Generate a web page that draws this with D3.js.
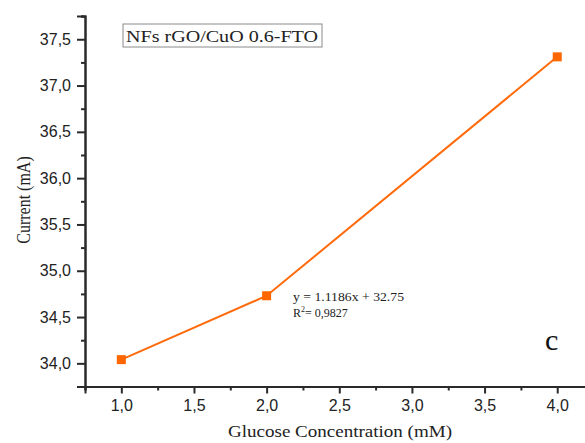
<!DOCTYPE html>
<html>
<head>
<meta charset="utf-8">
<script src="https://cdn.jsdelivr.net/npm/d3@7"></script>
<style>
  html, body { margin: 0; padding: 0; background: #fff; }
  svg { display: block; }
</style>
</head>
<body>
<svg id="chart" width="585" height="443"></svg>
<script>
// Glucose concentration (mM) vs. measured current (mA)
const concentration = [1, 2, 4];
const current = [34.04, 34.73, 37.31];
const xTicks = [1.0, 1.5, 2.0, 2.5, 3.0, 3.5, 4.0];
const yTicks = [34.0, 34.5, 35.0, 35.5, 36.0, 36.5, 37.0, 37.5];
const seriesName = "NFs rGO/CuO 0.6-FTO";
const fitLines = ["y = 1.1186x + 32.75", "R²= 0,9827"];
const panelLabel = "c";

const svg = d3.select("#chart");
const margin = { left: 85, top: 15, bottom: 386.5 };

const x = d3.scaleLinear().domain([0.75, 4.25]).range([margin.left, margin.left + 3.5 * 145.3]);
const y = d3.scaleLinear().domain([33.75, 37.75]).range([margin.bottom, margin.bottom - 4 * 92.6]);

const comma = d => d.toFixed(1).replace(".", ",");
const minor = (lo, hi) => d3.range(lo, hi + 1e-9, 0.25).filter(v => Math.abs(v * 2 - Math.round(v * 2)) > 1e-6);

const axisColor = "#2a2a2a";
const serif = "Liberation Serif, Times New Roman, serif";

// minor ticks, then major ticks with labels
svg.append("g").attr("transform", `translate(0,${margin.bottom})`)
  .call(d3.axisBottom(x).tickValues(minor(0.75, 4.25)).tickSize(4).tickFormat(""));
svg.append("g").attr("transform", `translate(0,${margin.bottom})`)
  .call(d3.axisBottom(x).tickValues(xTicks).tickSize(7).tickPadding(6).tickFormat(comma));

svg.append("g").attr("transform", `translate(${margin.left},0)`)
  .call(d3.axisLeft(y).tickValues(minor(33.75, 37.75)).tickSize(4).tickFormat(""));
svg.append("g").attr("transform", `translate(${margin.left},0)`)
  .call(d3.axisLeft(y).tickValues(yTicks).tickSize(8).tickPadding(6).tickFormat(comma));

svg.selectAll(".domain").attr("stroke", axisColor).attr("stroke-width", 2);
svg.selectAll(".tick line").attr("stroke", axisColor).attr("stroke-width", 2);
svg.selectAll(".tick text")
  .attr("font-family", "Liberation Sans, Arial, sans-serif")
  .attr("font-size", 16)
  .attr("fill", "#222");

// series line
const pts = concentration.map((c, i) => [c, current[i]]);
svg.append("path")
  .datum(pts)
  .attr("fill", "none")
  .attr("stroke", "#ff6a0a")
  .attr("stroke-width", 2)
  .attr("d", d3.line().x(d => x(d[0])).y(d => y(d[1])));

// square markers
const ms = 9;
svg.selectAll("rect.marker")
  .data(pts)
  .enter().append("rect")
  .attr("class", "marker")
  .attr("x", d => x(d[0]) - ms / 2)
  .attr("y", d => y(d[1]) - ms / 2)
  .attr("width", ms)
  .attr("height", ms)
  .attr("fill", "#ff6600");

// axis titles
svg.append("text")
  .attr("x", 228).attr("y", 437)
  .attr("font-family", serif)
  .attr("font-size", 17)
  .attr("textLength", 224)
  .attr("lengthAdjust", "spacingAndGlyphs")
  .attr("fill", "#222")
  .text("Glucose Concentration (mM)");

svg.append("text")
  .attr("transform", "translate(30,200) scale(1.17,1) rotate(-90)")
  .attr("text-anchor", "middle")
  .attr("font-family", serif)
  .attr("font-size", 16)
  .attr("fill", "#222")
  .text("Current (mA)");

// legend box
const legend = svg.append("g");
legend.append("rect")
  .attr("x", 123).attr("y", 24)
  .attr("width", 199).attr("height", 23)
  .attr("fill", "#fff")
  .attr("stroke", "#8a8a8a")
  .attr("stroke-width", 1);
legend.append("text")
  .attr("x", 126).attr("y", 42)
  .attr("font-family", serif)
  .attr("font-size", 17)
  .attr("textLength", 192)
  .attr("lengthAdjust", "spacingAndGlyphs")
  .attr("fill", "#222")
  .text(seriesName);

// fit annotation
svg.append("text")
  .attr("x", 293).attr("y", 301)
  .attr("font-family", serif)
  .attr("font-size", 12)
  .attr("textLength", 111)
  .attr("lengthAdjust", "spacingAndGlyphs")
  .attr("fill", "#222")
  .text(fitLines[0]);
const r2 = svg.append("text")
  .attr("x", 293).attr("y", 317)
  .attr("font-family", serif)
  .attr("font-size", 12)
  .attr("fill", "#222");
r2.append("tspan").text("R");
r2.append("tspan").attr("font-size", 8).attr("dy", -5).text("2");
r2.append("tspan").attr("dy", 5).text("= 0,9827");

// panel letter
svg.append("text")
  .attr("x", 545).attr("y", 350)
  .attr("font-family", serif)
  .attr("font-size", 30)
  .attr("fill", "#111")
  .text(panelLabel);
</script>
</body>
</html>
